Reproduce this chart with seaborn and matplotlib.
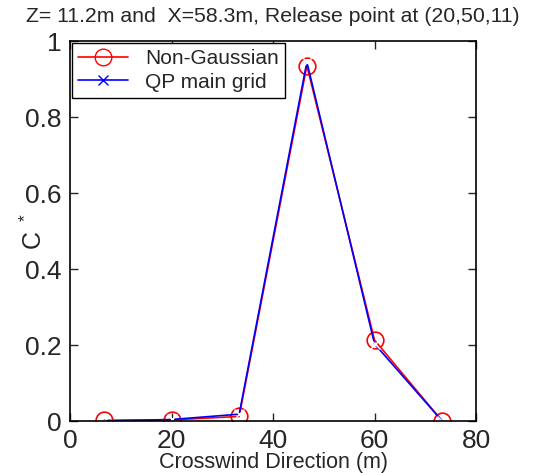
import matplotlib
matplotlib.use("Agg")
import matplotlib.pyplot as plt
import seaborn as sns
from matplotlib.lines import Line2D

x_pos = [6.67, 20.0, 33.33, 46.67, 60.0, 73.33]
non_gaussian = [0.002, 0.003, 0.012, 0.935, 0.213, 0.0]
qp_main_grid = [0.0, 0.004, 0.018, 0.945, 0.203, 0.0]
series_names = ["Non-Gaussian", "QP main grid"]
title = "Z= 11.2m and  X=58.3m, Release point at (20,50,11)"
xlabel = "Crosswind Direction (m)"
ylabel = "C $^*$"

sns.set_style("ticks")
plt.rcParams['font.family'] = ['Liberation Sans', 'DejaVu Sans']
plt.rcParams['mathtext.fontset'] = 'custom'
plt.rcParams['mathtext.rm'] = 'Liberation Sans'

fig = plt.figure(figsize=(5.53, 4.73), dpi=100)
ax = fig.add_axes([0.1266, 0.1099, 0.7342, 0.8034])

sns.lineplot(x=x_pos, y=non_gaussian, color="red", marker="o", markersize=12,
             markerfacecolor="none", markeredgecolor="red", markeredgewidth=1.2,
             linewidth=1.2, ax=ax)
sns.lineplot(x=x_pos, y=qp_main_grid, color="blue", marker="x", markersize=7,
             markeredgewidth=1.0, linewidth=1.2, ax=ax)

handles = [Line2D([], [], color="red", marker="o", markerfacecolor="none", markersize=12, lw=1.2),
           Line2D([], [], color="blue", marker="x", markersize=7, lw=1.2)]
leg = ax.legend(handles, series_names, loc="upper left", fontsize=15, frameon=True,
                fancybox=False, edgecolor="black", borderaxespad=0.1, handlelength=2.4,
                borderpad=0.3, labelspacing=0.2, framealpha=1, handletextpad=0.8)
leg.get_frame().set_linewidth(1.0)

ax.set_xlim(0, 80)
ax.set_ylim(0, 1)
ax.set_xticks([0, 20, 40, 60, 80])
ax.set_xticklabels(["0", "20", "40", "60", "80"])
ax.set_yticks([0, 0.2, 0.4, 0.6, 0.8, 1])
ax.set_yticklabels(["0", "0.2", "0.4", "0.6", "0.8", "1"])
ax.tick_params(direction="in", length=6, width=1, labelsize=19, top=True, right=True, pad=6)
for s in ax.spines.values():
    s.set_linewidth(1.2)
    s.set_visible(True)
    s.set_color("black")
ax.set_title(title, fontsize=15.3, pad=14)
ax.set_xlabel(xlabel, fontsize=15.5)
ax.xaxis.set_label_coords(0.5, -0.11)
ax.xaxis.label.set_va("center")
ax.set_ylabel(ylabel, fontsize=18)
ax.yaxis.set_label_coords(-0.09, 0.5)
ax.yaxis.label.set_va("center")

fig.savefig("out.png", dpi=100, facecolor="white")
